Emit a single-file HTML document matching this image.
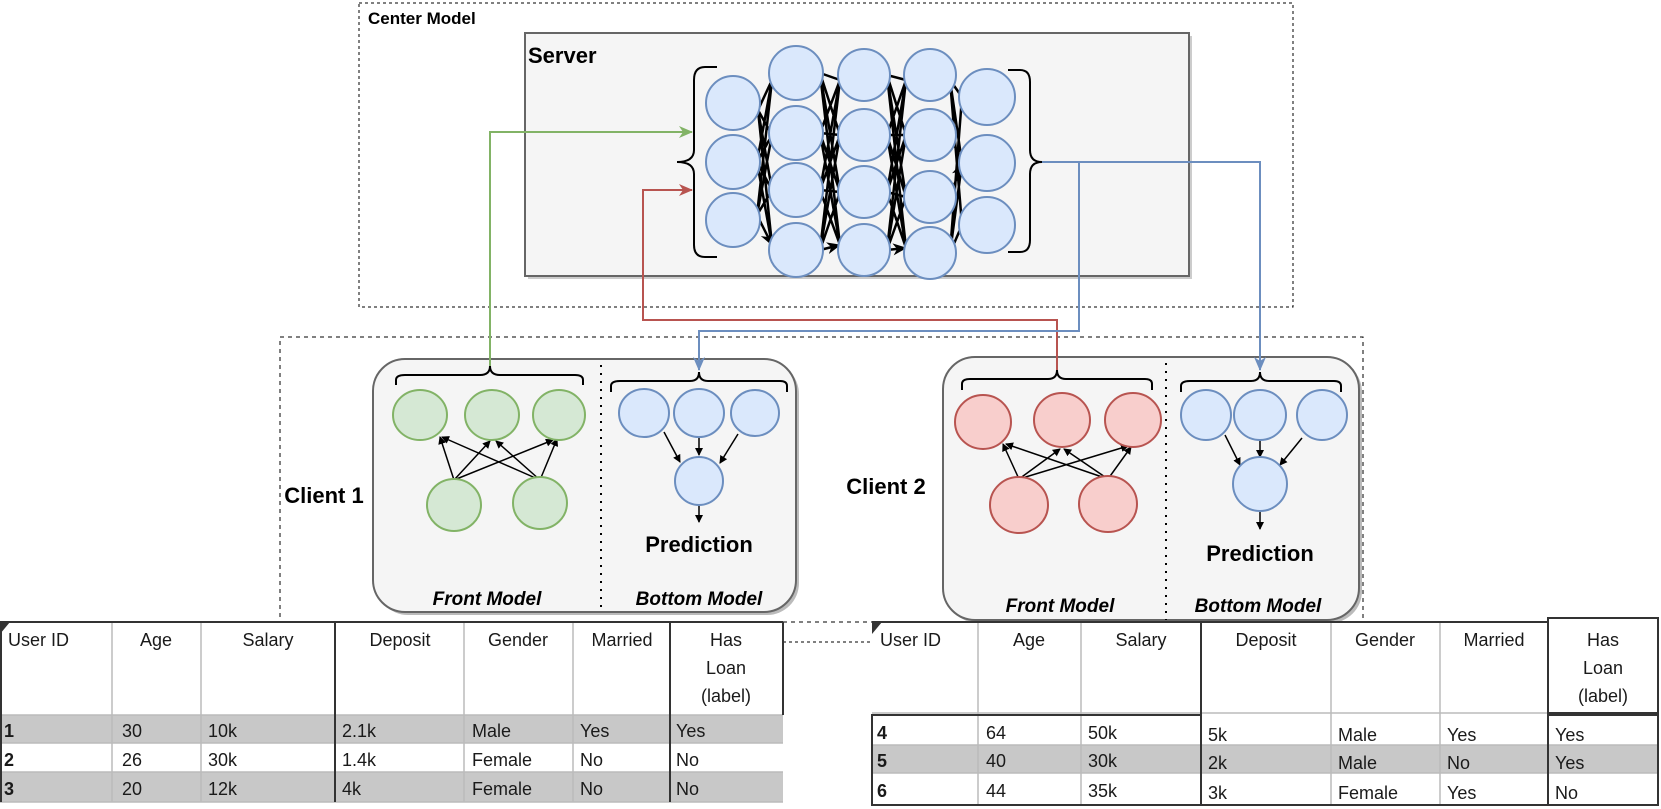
<!DOCTYPE html>
<html><head><meta charset="utf-8"><style>
body{margin:0;background:#fff}
svg{display:block}
text{font-family:"Liberation Sans",Arial,sans-serif}
.t{font-family:"Liberation Sans Narrow","Liberation Sans",sans-serif;font-size:18px;fill:#1a1a1a}
</style></head><body>
<svg width="1661" height="809" viewBox="0 0 1661 809" xmlns="http://www.w3.org/2000/svg">
<defs>
<marker id="a" markerWidth="8" markerHeight="8" refX="7" refY="4" orient="auto" markerUnits="userSpaceOnUse"><path d="M0,0L8,4L0,8z" fill="#000"/></marker>
<marker id="a2" markerWidth="14" markerHeight="12" refX="13" refY="6" orient="auto" markerUnits="userSpaceOnUse"><path d="M0,0L14,6L0,12L4,6z" fill="#000"/></marker>
<marker id="ab" markerWidth="14" markerHeight="12" refX="13" refY="6" orient="auto" markerUnits="userSpaceOnUse"><path d="M0,0L14,6L0,12L4,6z" fill="#6c8ebf"/></marker>
<marker id="ag" markerWidth="14" markerHeight="12" refX="13" refY="6" orient="auto" markerUnits="userSpaceOnUse"><path d="M0,0L14,6L0,12L4,6z" fill="#82b366"/></marker>
<marker id="ar" markerWidth="14" markerHeight="12" refX="13" refY="6" orient="auto" markerUnits="userSpaceOnUse"><path d="M0,0L14,6L0,12L4,6z" fill="#b85450"/></marker>
</defs>
<rect x="359" y="3" width="934" height="304" fill="none" stroke="#000" stroke-dasharray="3,3"/>
<text x="368" y="24" font-size="17" font-weight="bold">Center Model</text>
<rect x="528" y="36" width="664" height="243" fill="#ccc"/>
<rect x="525" y="33" width="664" height="243" fill="#f5f5f5" stroke="#666" stroke-width="2"/>
<text x="528" y="63" font-size="22" font-weight="bold">Server</text>
<rect x="280" y="337" width="1083" height="285" fill="none" stroke="#000" stroke-dasharray="4,4"/>
<rect x="376" y="362" width="423" height="253" rx="32" fill="#bbb"/>
<rect x="373" y="359" width="423" height="253" rx="32" fill="#f5f5f5" stroke="#666" stroke-width="2"/>
<rect x="946" y="360" width="416" height="263" rx="32" fill="#bbb"/>
<rect x="943" y="357" width="416" height="263" rx="32" fill="#f5f5f5" stroke="#666" stroke-width="2"/>
<line x1="601" y1="365" x2="601" y2="612" stroke="#000" stroke-width="2" stroke-dasharray="2,6"/>
<line x1="1166" y1="363" x2="1166" y2="620" stroke="#000" stroke-width="2" stroke-dasharray="2,6"/>
<g stroke="#000" stroke-width="2.5" fill="none" marker-end="url(#a2)">
<path d="M758,110L772,80M758,110L772,135M758,110L772,190M758,110L772,245M757,162L772,80M757,162L772,135M757,162L772,190M757,162L772,245M757,215L772,80M757,215L772,135M757,215L772,190M757,215L772,245"/>
<path d="M820,73L840,80M820,73L840,135M820,73L840,192M820,73L840,245M820,133L840,80M820,133L840,135M820,133L840,192M820,133L840,245M820,190L840,80M820,190L840,135M820,190L840,192M820,190L840,245M820,250L840,80M820,250L840,135M820,250L840,192M820,250L840,245"/>
<path d="M887,75L906,80M887,75L906,135M887,75L906,197M887,75L906,248M887,135L906,80M887,135L906,135M887,135L906,197M887,135L906,248M887,192L906,80M887,192L906,135M887,192L906,197M887,192L906,248M887,250L906,80M887,250L906,135M887,250L906,197M887,250L906,248"/>
<path d="M950,80L962,97M950,80L962,163M950,80L962,225M950,253L962,97M950,253L962,163M950,253L962,225M950,135L962,163M950,197L962,163"/>
</g>
<g fill="#dae8fc" stroke="#6c8ebf" stroke-width="2">
<circle cx="733" cy="103" r="27"/><circle cx="733" cy="162" r="27"/><circle cx="733" cy="220" r="27"/>
<circle cx="796" cy="73" r="27"/><circle cx="796" cy="133" r="27"/><circle cx="796" cy="190" r="27"/><circle cx="796" cy="250" r="27"/>
<circle cx="864" cy="75" r="26"/><circle cx="864" cy="135" r="26"/><circle cx="864" cy="192" r="26"/><circle cx="864" cy="250" r="26"/>
<circle cx="930" cy="75" r="26"/><circle cx="930" cy="135" r="26"/><circle cx="930" cy="197" r="26"/><circle cx="930" cy="253" r="26"/>
<circle cx="987" cy="97" r="28"/><circle cx="987" cy="163" r="28"/><circle cx="987" cy="225" r="28"/>
</g>
<g fill="none" stroke="#000" stroke-width="2">
<path d="M717,67H705Q694,67 694,80V150Q694,162 677,162Q694,162 694,174V245Q694,257 705,257H717"/>
<path d="M1008,70H1020Q1030,70 1030,82V150Q1030,162 1042,162Q1030,162 1030,174V240Q1030,252 1020,252H1008"/>
<path d="M396,385V380Q396,375 405,375H480Q490,375 490,366Q490,375 500,375H575Q583,375 583,380V385"/>
<path d="M611,392V386Q611,381 620,381H690Q699,381 699,372Q699,381 708,381H780Q787,381 787,386V392"/>
<path d="M962,390V384Q962,379 970,379H1048Q1057,379 1057,370Q1057,379 1066,379H1145Q1152,379 1152,384V390"/>
<path d="M1181,392V386Q1181,381 1190,381H1251Q1260,381 1260,372Q1260,381 1269,381H1334Q1341,381 1341,386V392"/>
</g>
<path d="M490,366V132H692" fill="none" stroke="#82b366" stroke-width="2" marker-end="url(#ag)"/>
<path d="M1057,370V320H643V190H692" fill="none" stroke="#b85450" stroke-width="2" marker-end="url(#ar)"/>
<path d="M1042,162H1260V370" fill="none" stroke="#6c8ebf" stroke-width="2" marker-end="url(#ab)"/>
<path d="M1079,162V331H699V370" fill="none" stroke="#6c8ebf" stroke-width="2" marker-end="url(#ab)"/>
<g stroke="#000" stroke-width="1.5" marker-end="url(#a)">
<line x1="454" y1="480" x2="440" y2="437"/><line x1="454" y1="480" x2="490" y2="441"/><line x1="454" y1="480" x2="553" y2="440"/>
<line x1="540" y1="480" x2="442" y2="437"/><line x1="540" y1="480" x2="496" y2="441"/><line x1="540" y1="480" x2="557" y2="439"/>
<line x1="1019" y1="479" x2="1003" y2="444"/><line x1="1019" y1="479" x2="1060" y2="449"/><line x1="1019" y1="479" x2="1128" y2="446"/>
<line x1="1108" y1="479" x2="1006" y2="444"/><line x1="1108" y1="479" x2="1064" y2="449"/><line x1="1108" y1="479" x2="1131" y2="447"/>
<line x1="664" y1="432" x2="680" y2="462"/><line x1="699" y1="438" x2="699" y2="455"/><line x1="738" y1="434" x2="720" y2="463"/>
<line x1="699" y1="506" x2="699" y2="522"/>
<line x1="1225" y1="435" x2="1240" y2="465"/><line x1="1260" y1="440" x2="1260" y2="457"/><line x1="1302" y1="438" x2="1280" y2="465"/>
<line x1="1260" y1="512" x2="1260" y2="529"/>
</g>
<g fill="#d5e8d4" stroke="#82b366" stroke-width="2">
<ellipse cx="420" cy="415" rx="27" ry="25"/><ellipse cx="492" cy="415" rx="27" ry="25"/><ellipse cx="559" cy="415" rx="26" ry="25"/>
<ellipse cx="454" cy="505" rx="27" ry="26"/><ellipse cx="540" cy="503" rx="27" ry="26"/>
</g>
<g fill="#f8cecc" stroke="#b85450" stroke-width="2">
<ellipse cx="983" cy="422" rx="28" ry="27"/><ellipse cx="1062" cy="420" rx="28" ry="27"/><ellipse cx="1133" cy="420" rx="28" ry="27"/>
<ellipse cx="1019" cy="505" rx="29" ry="28"/><ellipse cx="1108" cy="504" rx="29" ry="28"/>
</g>
<g fill="#dae8fc" stroke="#6c8ebf" stroke-width="2">
<ellipse cx="644" cy="413" rx="25" ry="24"/><ellipse cx="699" cy="413" rx="25" ry="24"/><ellipse cx="755" cy="413" rx="24" ry="23"/>
<ellipse cx="699" cy="481" rx="24" ry="24"/>
<ellipse cx="1206" cy="415" rx="25" ry="25"/><ellipse cx="1260" cy="415" rx="26" ry="25"/><ellipse cx="1322" cy="415" rx="25" ry="25"/>
<ellipse cx="1260" cy="484" rx="27" ry="27"/>
</g>
<g font-weight="bold" font-size="22" text-anchor="middle">
<text x="699" y="552">Prediction</text>
<text x="1260" y="561">Prediction</text>
<text x="324" y="503">Client 1</text>
<text x="886" y="494">Client 2</text>
</g>
<g font-weight="bold" font-style="italic" font-size="19" text-anchor="middle">
<text x="487" y="605">Front Model</text>
<text x="699" y="605">Bottom Model</text>
<text x="1060" y="612">Front Model</text>
<text x="1258" y="612">Bottom Model</text>
</g>
<line x1="783" y1="642" x2="872" y2="642" stroke="#000" stroke-dasharray="3,3"/>
<g>
<rect x="0" y="715" width="783" height="28" fill="#c8c8c8"/>
<rect x="0" y="772" width="783" height="30" fill="#c8c8c8"/>
<g stroke="#bbb" stroke-width="1.5" fill="none">
<line x1="0" y1="715" x2="783" y2="715"/><line x1="0" y1="743" x2="783" y2="743"/><line x1="0" y1="772" x2="783" y2="772"/><line x1="0" y1="802" x2="783" y2="802"/>
<line x1="112" y1="622" x2="112" y2="802"/><line x1="201" y1="622" x2="201" y2="802"/><line x1="464" y1="622" x2="464" y2="802"/><line x1="573" y1="622" x2="573" y2="802"/>
</g>
<g stroke="#333" stroke-width="2" fill="none">
<line x1="0" y1="622" x2="783" y2="622"/><line x1="335" y1="622" x2="335" y2="802"/><line x1="670" y1="622" x2="670" y2="802"/><line x1="1" y1="622" x2="1" y2="802"/><line x1="783" y1="622" x2="783" y2="715"/>
</g>
<path d="M0,622H10L0,634z" fill="#333"/>
<text x="8" y="646" class="t">User ID</text>
<text x="156" y="646" class="t" text-anchor="middle">Age</text>
<text x="268" y="646" class="t" text-anchor="middle">Salary</text>
<text x="400" y="646" class="t" text-anchor="middle">Deposit</text>
<text x="518" y="646" class="t" text-anchor="middle">Gender</text>
<text x="622" y="646" class="t" text-anchor="middle">Married</text>
<text x="726" y="646" class="t" text-anchor="middle">Has</text>
<text x="726" y="674" class="t" text-anchor="middle">Loan</text>
<text x="726" y="702" class="t" text-anchor="middle">(label)</text>
<text x="4" y="737" class="t" font-weight="bold">1</text><text x="122" y="737" class="t">30</text><text x="208" y="737" class="t">10k</text><text x="342" y="737" class="t">2.1k</text><text x="472" y="737" class="t">Male</text><text x="580" y="737" class="t">Yes</text><text x="676" y="737" class="t">Yes</text>
<text x="4" y="766" class="t" font-weight="bold">2</text><text x="122" y="766" class="t">26</text><text x="208" y="766" class="t">30k</text><text x="342" y="766" class="t">1.4k</text><text x="472" y="766" class="t">Female</text><text x="580" y="766" class="t">No</text><text x="676" y="766" class="t">No</text>
<text x="4" y="795" class="t" font-weight="bold">3</text><text x="122" y="795" class="t">20</text><text x="208" y="795" class="t">12k</text><text x="342" y="795" class="t">4k</text><text x="472" y="795" class="t">Female</text><text x="580" y="795" class="t">No</text><text x="676" y="795" class="t">No</text>
</g>
<g>
<rect x="872" y="745" width="676" height="28" fill="#c8c8c8"/>
<rect x="1548" y="745" width="110" height="28" fill="#c8c8c8"/>
<g stroke="#bbb" stroke-width="1.5" fill="none">
<line x1="872" y1="773" x2="1548" y2="773"/><line x1="1548" y1="745" x2="1658" y2="745"/><line x1="1548" y1="773" x2="1658" y2="773"/>
<line x1="978" y1="622" x2="978" y2="805"/><line x1="1081" y1="622" x2="1081" y2="805"/><line x1="1331" y1="622" x2="1331" y2="805"/><line x1="1440" y1="622" x2="1440" y2="805"/>
<line x1="872" y1="713" x2="1548" y2="713"/><line x1="1201" y1="745" x2="1548" y2="745"/><line x1="872" y1="745" x2="1201" y2="745"/>
</g>
<g stroke="#333" stroke-width="2" fill="none">
<line x1="872" y1="622" x2="1548" y2="622"/>
<line x1="1201" y1="622" x2="1201" y2="805"/>
<rect x="872" y="715" width="329" height="90"/>
<line x1="1201" y1="805" x2="1548" y2="805"/>
<rect x="1548" y="618" width="110" height="95"/>
<rect x="1548" y="715" width="110" height="90"/>
</g>
<path d="M872,622H882L872,634z" fill="#333"/>
<text x="880" y="646" class="t">User ID</text>
<text x="1029" y="646" class="t" text-anchor="middle">Age</text>
<text x="1141" y="646" class="t" text-anchor="middle">Salary</text>
<text x="1266" y="646" class="t" text-anchor="middle">Deposit</text>
<text x="1385" y="646" class="t" text-anchor="middle">Gender</text>
<text x="1494" y="646" class="t" text-anchor="middle">Married</text>
<text x="1603" y="646" class="t" text-anchor="middle">Has</text>
<text x="1603" y="674" class="t" text-anchor="middle">Loan</text>
<text x="1603" y="702" class="t" text-anchor="middle">(label)</text>
<text x="877" y="739" class="t" font-weight="bold">4</text><text x="986" y="739" class="t">64</text><text x="1088" y="739" class="t">50k</text><text x="1208" y="741" class="t">5k</text><text x="1338" y="741" class="t">Male</text><text x="1447" y="741" class="t">Yes</text><text x="1555" y="741" class="t">Yes</text>
<text x="877" y="767" class="t" font-weight="bold">5</text><text x="986" y="767" class="t">40</text><text x="1088" y="767" class="t">30k</text><text x="1208" y="769" class="t">2k</text><text x="1338" y="769" class="t">Male</text><text x="1447" y="769" class="t">No</text><text x="1555" y="769" class="t">Yes</text>
<text x="877" y="797" class="t" font-weight="bold">6</text><text x="986" y="797" class="t">44</text><text x="1088" y="797" class="t">35k</text><text x="1208" y="799" class="t">3k</text><text x="1338" y="799" class="t">Female</text><text x="1447" y="799" class="t">Yes</text><text x="1555" y="799" class="t">No</text>
</g>
</svg>
</body></html>
